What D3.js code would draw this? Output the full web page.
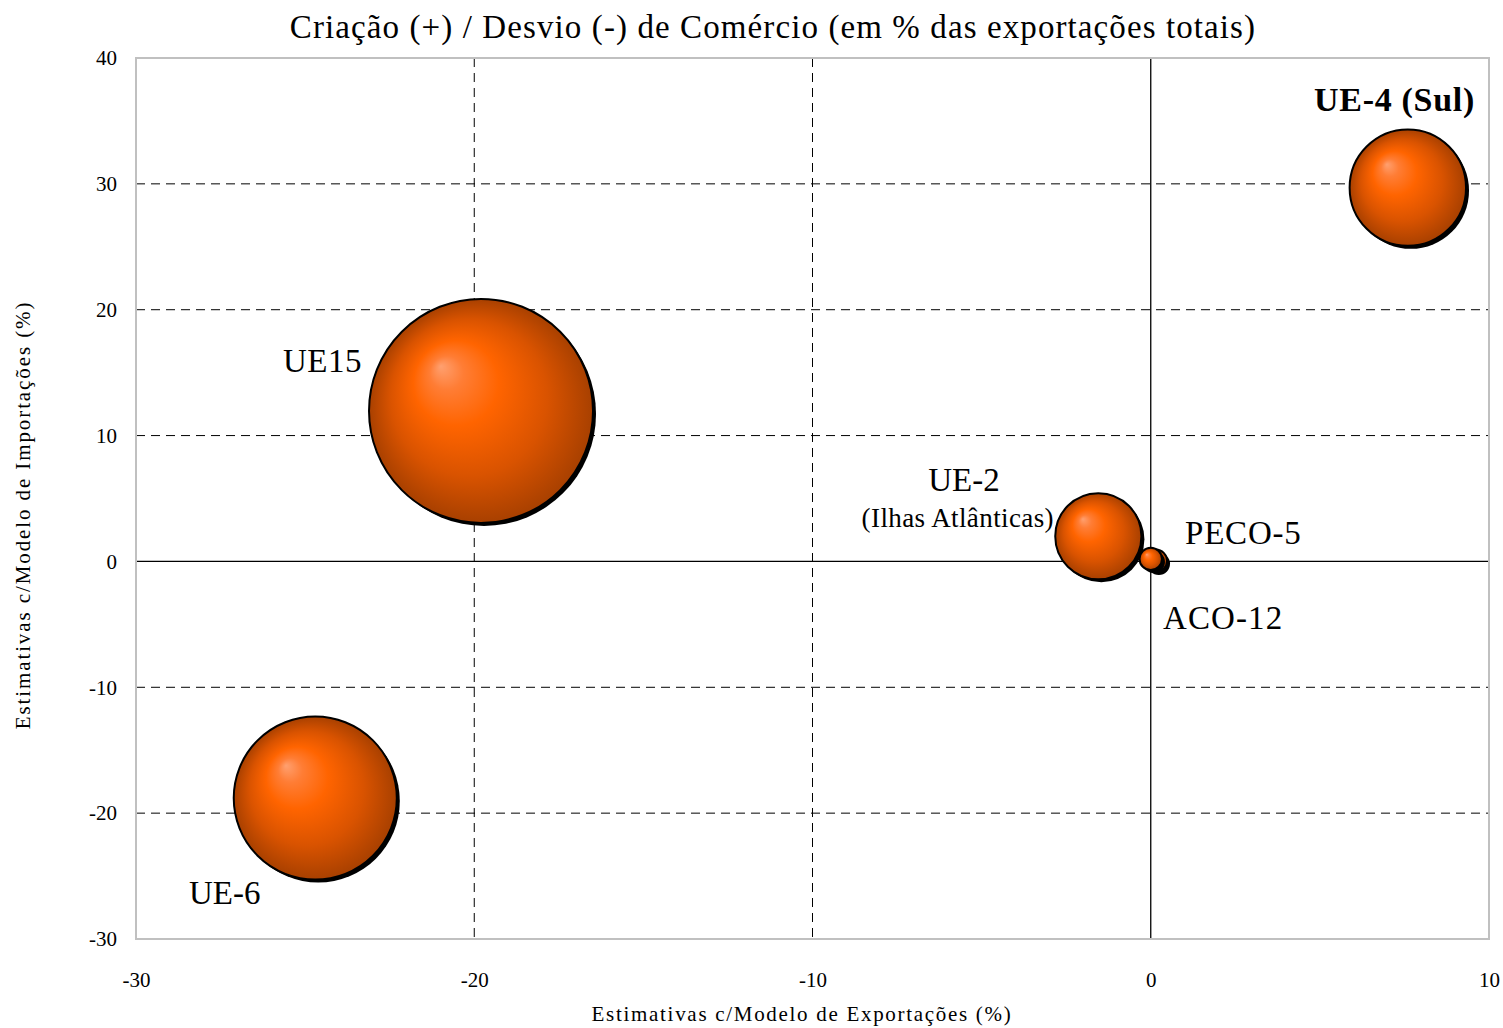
<!DOCTYPE html>
<html><head><meta charset="utf-8">
<script src="https://cdn.jsdelivr.net/npm/d3@7"></script>
<style>body{margin:0;background:#fff}svg{display:block}text{font-family:"Liberation Serif","Times New Roman",serif;fill:#000}</style>
</head><body><svg id="c" width="1503" height="1028"></svg>
<script>
const names = ["UE15","UE-6","UE-4 (Sul)","UE-2","PECO-5","ACO-12"];
const xValues = [-19.8, -24.7, 7.6, -1.55, 0.15, 0.0];
const yValues = [11.96, -18.8, 29.7, 2.0, 0.05, 0.2];
const sizes = [100, 53, 27, 14.8, 1.0, 1.0];
const xTicks = [-30,-20,-10,0,10];
const yTicks = [-30,-20,-10,0,10,20,30,40];
const title = "Criação (+) / Desvio (-) de Comércio (em % das exportações totais)";
const xTitle = "Estimativas c/Modelo de Exportações (%)";
const yTitle = "Estimativas c/Modelo de Importações (%)";

const svg = d3.select("#c");
const L=136, R=1489, T=58, B=939;
const x = d3.scaleLinear().domain([-30,10]).range([L,R]);
const y = d3.scaleLinear().domain([-30,40]).range([B,T]);
const r = d3.scaleSqrt().domain([0,100]).range([0,112]);

const defs = svg.append("defs");
const g = defs.append("radialGradient").attr("id","ball").attr("cx","0.5").attr("cy","0.5").attr("r","0.5").attr("fx","0.32").attr("fy","0.3");
[[0,"#ffa070"],[0.15,"#ff7d35"],[0.38,"#ff6400"],[0.7,"#d95300"],[1,"#a84000"]].forEach(s=>g.append("stop").attr("offset",s[0]).attr("stop-color",s[1]));

// grid
svg.append("g").selectAll("line").data(yTicks.filter(v=>v!==0&&v!==-30&&v!==40)).join("line")
 .attr("x1",L).attr("x2",R).attr("y1",d=>y(d)).attr("y2",d=>y(d))
 .attr("stroke","#000").attr("stroke-width",1).attr("stroke-dasharray","9,6");
svg.append("g").selectAll("line").data(xTicks.filter(v=>v!==0&&v!==-30&&v!==10)).join("line")
 .attr("y1",T).attr("y2",B).attr("x1",d=>x(d)).attr("x2",d=>x(d))
 .attr("stroke","#000").attr("stroke-width",1).attr("stroke-dasharray","9,6");
// zero lines
svg.append("line").attr("x1",L).attr("x2",R).attr("y1",y(0)).attr("y2",y(0)).attr("stroke","#000").attr("stroke-width",1.3);
svg.append("line").attr("x1",x(0)).attr("x2",x(0)).attr("y1",T).attr("y2",B).attr("stroke","#000").attr("stroke-width",1.3);
// frame
svg.append("rect").attr("x",L).attr("y",T).attr("width",R-L).attr("height",B-T).attr("fill","none").attr("stroke","#c0c0c0").attr("stroke-width",2);

// axes (labels only)
const fmt = d=>String(d);
const xa = svg.append("g").attr("transform",`translate(0,${B})`).call(d3.axisBottom(x).tickValues(xTicks).tickFormat(fmt).tickSize(0).tickPadding(33));
const ya = svg.append("g").attr("transform",`translate(${L},0)`).call(d3.axisLeft(y).tickValues(yTicks).tickFormat(fmt).tickSize(0).tickPadding(19));
[xa,ya].forEach(a=>{a.select(".domain").remove();a.selectAll("text").attr("font-family","Liberation Serif").attr("font-size",21).attr("fill","#000");});

// bubbles
const idx = d3.range(names.length).sort((a,b)=>sizes[b]-sizes[a]);
const bg = svg.append("g");
idx.forEach(i=>{
  const cx=x(xValues[i]), cy=y(yValues[i]), rr=r(sizes[i]);
  bg.append("circle").attr("cx",cx+3).attr("cy",cy+3).attr("r",rr).attr("fill","#000");
  bg.append("circle").attr("cx",cx).attr("cy",cy).attr("r",rr).attr("fill","url(#ball)").attr("stroke","#000").attr("stroke-width",2);
});

// labels
const labels = [
 {t:"UE15", x:362, y:372, a:"end", s:33, w:"normal", ls:0.5},
 {t:"UE-6", x:189, y:904, a:"start", s:33, w:"normal", ls:0},
 {t:"UE-4 (Sul)", x:1475, y:111, a:"end", s:34, w:"bold", ls:0.7},
 {t:"UE-2", x:964, y:491, a:"middle", s:33, w:"normal", ls:0},
 {t:"(Ilhas Atlânticas)", x:1054, y:527, a:"end", s:27, w:"normal", ls:0.4},
 {t:"PECO-5", x:1185, y:544, a:"start", s:33, w:"normal", ls:0.8},
 {t:"ACO-12", x:1163, y:629, a:"start", s:33, w:"normal", ls:1.1}
];
svg.append("g").selectAll("text").data(labels).join("text")
 .attr("x",d=>d.x).attr("y",d=>d.y).attr("text-anchor",d=>d.a).attr("font-size",d=>d.s).attr("font-weight",d=>d.w)
 .attr("letter-spacing",d=>d.ls).text(d=>d.t);

svg.append("text").attr("x",773).attr("y",38).attr("text-anchor","middle").attr("font-size",33).attr("letter-spacing",1.1).text(title);
svg.append("text").attr("x",802).attr("y",1021).attr("text-anchor","middle").attr("font-size",21).attr("letter-spacing",1.7).text(xTitle);
svg.append("text").attr("transform","translate(30,515) rotate(-90)").attr("text-anchor","middle").attr("font-size",21).attr("letter-spacing",1.9).text(yTitle);
</script></body></html>
